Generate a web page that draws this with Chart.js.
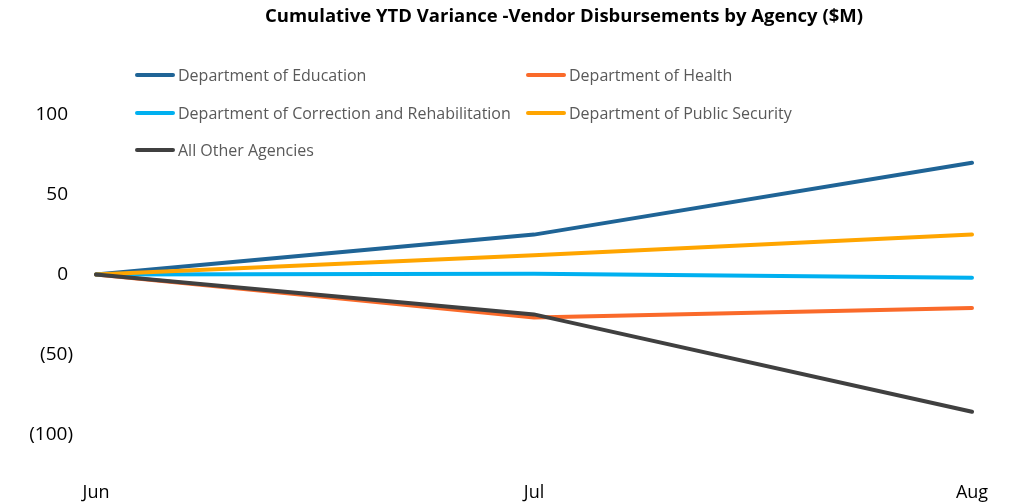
<!DOCTYPE html>
<html lang="en">
<head>
<meta charset="UTF-8">
<title>Cumulative YTD Variance</title>
<script src="https://cdn.jsdelivr.net/npm/chart.js"></script>
<style>
    body { margin: 0; background: #fff; }
    .wrap { position: relative; width: 1018px; height: 503px; overflow: hidden; }
    #chart { position: absolute; left: 0; top: 0; }
    .title {
        position: absolute; left: 0; top: 2px; width: 1128px;
        text-align: center; font: bold 18.5px "Open Sans", sans-serif; color: #000;
    }
    .legend { position: absolute; left: 0; top: 0; font: 16px "Open Sans", sans-serif; color: #595959; }
    .legend .item { position: absolute; display: flex; align-items: center; white-space: nowrap; height: 20px; }
    .legend .swatch { width: 40px; height: 4px; border-radius: 2px; margin-right: 3px; }
</style>
</head>
<body>
<div class="wrap">
    <canvas id="chart" width="1018" height="503"></canvas>
    <div class="title">Cumulative YTD Variance -Vendor Disbursements by Agency ($M)</div>
    <div class="legend" id="legend"></div>
</div>
<script>
const months = ['Jun', 'Jul', 'Aug'];
const seriesNames = [
    'Department of Education',
    'Department of Health',
    'Department of Correction and Rehabilitation',
    'Department of Public Security',
    'All Other Agencies'
];
const education = [0, 25, 70];
const health = [0, -27, -21];
const correction = [0, 0.5, -2];
const publicSecurity = [0, 12, 25];
const otherAgencies = [0, -25, -86];
const yTickValues = [-100, -50, 0, 50, 100];

const colors = ['#1F6496', '#FA6A2A', '#00B0F0', '#FFA500', '#404040'];
const allValues = [education, health, correction, publicSecurity, otherAgencies];

// legend sits inside the plot like the excel one (2 columns)
const legendPos = [[135, 65], [526, 65], [135, 103], [526, 103], [135, 140]];
const legendEl = document.getElementById('legend');
seriesNames.forEach(function (name, i) {
    const it = document.createElement('div');
    it.className = 'item';
    it.style.left = legendPos[i][0] + 'px';
    it.style.top = legendPos[i][1] + 'px';
    it.innerHTML = '<span class="swatch" style="background:' + colors[i] + '"></span><span>' + name + '</span>';
    legendEl.appendChild(it);
});

// accounting style: negatives in brackets, positives keep room for the ")"
function fmt(v) {
    return v < 0 ? '(' + Math.abs(v) + ')' : v + ' ';
}

new Chart(document.getElementById('chart'), {
    type: 'line',
    data: {
        labels: months,
        datasets: seriesNames.map(function (name, i) {
            return {
                label: name,
                data: allValues[i],
                borderColor: colors[i],
                backgroundColor: colors[i],
                borderWidth: 4,
                pointRadius: 0,
                tension: 0,
                borderCapStyle: 'round',
                order: seriesNames.length - i
            };
        })
    },
    options: {
        responsive: false,
        animation: false,
        layout: { padding: { left: 0, right: 46, top: 75, bottom: -9 } },
        plugins: { legend: { display: false }, title: { display: false }, tooltip: { enabled: false } },
        scales: {
            x: {
                offset: false,
                grid: { display: false, drawTicks: false },
                border: { display: false },
                ticks: { color: '#000', padding: 10, font: { family: 'Open Sans, sans-serif', size: 18, lineHeight: 1 }, maxRotation: 0 }
            },
            y: {
                min: -125,
                max: 125,
                grid: { display: false, drawTicks: false },
                border: { display: false },
                afterBuildTicks: function (s) { s.ticks = yTickValues.map(function (v) { return { value: v }; }); },
                afterFit: function (s) { s.width = 96; },
                ticks: {
                    color: '#000',
                    padding: 23,
                    // small line height keeps the label padding from eating the plot bottom
                    font: { family: 'Open Sans, sans-serif', size: 19, lineHeight: 0.5 },
                    callback: function (v) { return fmt(v); }
                }
            }
        }
    }
});
</script>
</body>
</html>
